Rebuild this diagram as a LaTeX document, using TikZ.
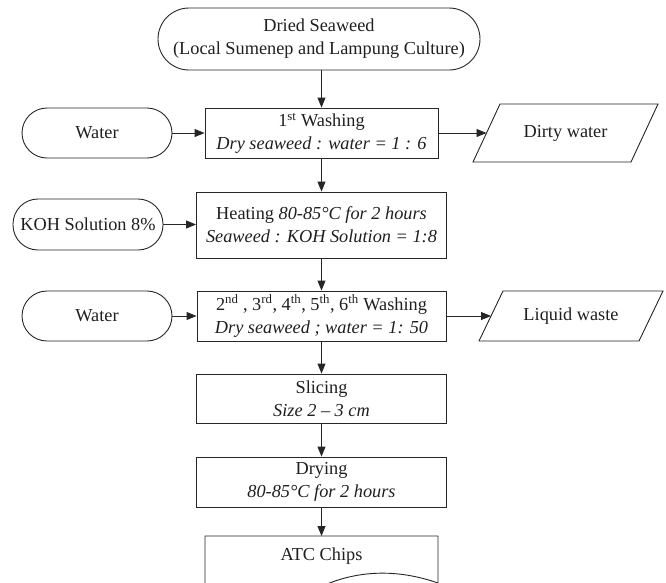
\documentclass[tikz,border=0pt]{standalone}
\usepackage{fontspec}
\setmainfont{Liberation Serif}
\usetikzlibrary{arrows.meta}
\begin{document}
\begin{tikzpicture}[x=1pt,y=-1pt,
  line/.style={draw=black!85, line width=0.9pt},
  txt/.style={font=\fontsize{18.3}{23}\selectfont, text=black!88, align=center, inner sep=0pt},
  procbox/.style={line, txt, rectangle, minimum height=50pt},
  termbox/.style={line, txt, rectangle, rounded corners=25pt, minimum width=150pt, minimum height=50pt},
  flow/.style={line, -{Triangle[length=10pt,width=8pt]}},
]
\useasboundingbox (0,0) rectangle (666,582);
\clip (0,0) rectangle (666,582);

% main column
\node[termbox, minimum width=322pt, minimum height=62pt, rounded corners=31pt] (src) at (319,39)
  {Dried Seaweed\\(Local Sumenep and Lampung Culture)};
\node[procbox, minimum width=233pt] (w1) at (321.5,133)
  {1\textsuperscript{st} Washing\\\textit{Dry seaweed : water = 1 : 6}};
\node[procbox, minimum width=250pt, minimum height=66pt] (heat) at (321.5,225)
  {Heating \textit{80-85°C for 2 hours}\\\textit{Seaweed : KOH Solution = 1:8}};
\node[procbox, minimum width=249pt] (w2) at (321.5,316)
  {2\textsuperscript{nd} , 3\textsuperscript{rd}, 4\textsuperscript{th}, 5\textsuperscript{th}, 6\textsuperscript{th} Washing\\\textit{Dry seaweed ; water = 1: 50}};
\node[procbox, minimum width=250pt, minimum height=49pt] (slice) at (321.5,398.5)
  {Slicing\\\textit{Size 2 – 3 cm}};
\node[procbox, minimum width=250pt] (dry) at (321.5,482)
  {Drying\\\textit{80-85°C for 2 hours}};

% ATC Chips document shape
\draw[line] (205,536) -- (438,536) -- (438,583)
  .. controls (398,569) and (356,569) .. (316,589)
  .. controls (276,609) and (240,607) .. (205,596) -- cycle;
\node[txt] (atc) at (321.5,556) {ATC Chips};
\coordinate (atctop) at (321.5,536);

% inputs
\node[termbox] (water1) at (97,133) {Water};
\node[termbox, minimum height=51pt] (koh) at (88,224.5) {KOH Solution 8\%};
\node[termbox] (water2) at (97,316) {Water};

% outputs
\draw[line] (473,162) -- (500,104) -- (658,104) -- (631,162) -- cycle;
\node[txt] (dirty) at (565.5,133) {Dirty water};
\coordinate (dirtyin) at (486.5,133);
\draw[line] (479,341) -- (503,291) -- (663,291) -- (639,341) -- cycle;
\node[txt] (liquid) at (571,316) {Liquid waste};
\coordinate (liqin) at (491,316);

% connectors
\draw[flow] (src.south -| w1.north) -- (w1.north);
\draw[flow] (w1) -- (heat);
\draw[flow] (heat) -- (w2);
\draw[flow] (w2) -- (slice);
\draw[flow] (slice) -- (dry);
\draw[flow] (dry.south) -- (atctop);
\draw[flow] (water1) -- (w1);
\draw[flow] (koh.east) -- (koh.east -| heat.west);
\draw[flow] (water2) -- (w2);
\draw[flow] (w1) -- (dirtyin);
\draw[flow] (w2) -- (liqin);
\end{tikzpicture}
\end{document}
